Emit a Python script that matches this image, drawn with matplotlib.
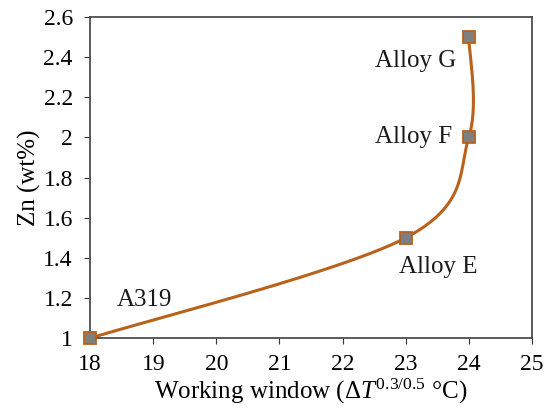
import numpy as np
import matplotlib
matplotlib.use("Agg")
import matplotlib.pyplot as plt

plt.rcParams['font.family'] = ['Liberation Serif', 'DejaVu Serif']
plt.rcParams['mathtext.fontset'] = 'custom'
plt.rcParams['mathtext.rm'] = 'Liberation Serif'
plt.rcParams['mathtext.it'] = 'Liberation Serif:italic'

# working window vs Zn content
window = [18, 23, 24, 24]
zn = [1.0, 1.5, 2.0, 2.5]
names = ["A319", "Alloy E", "Alloy F", "Alloy G"]
label_pos = [(18.86, 1.19), (23.51, 1.355), (23.13, 2.0), (23.15, 2.38)]
xticks = [18, 19, 20, 21, 22, 23, 24, 25]
yticks = [1, 1.2, 1.4, 1.6, 1.8, 2, 2.2, 2.4, 2.6]


def smooth(xs, ys, n=60):
    # smoothed line: cubic bezier segments through the points
    p = np.column_stack([xs, ys]).astype(float)
    out = []
    for i in range(len(p) - 1):
        p0 = p[i - 1] if i > 0 else p[i]
        p1, p2 = p[i], p[i + 1]
        p3 = p[i + 2] if i + 2 < len(p) else p[i + 1]
        c1 = p1 + (p2 - p0) / 6.0
        c2 = p2 - (p3 - p1) / 6.0
        t = np.linspace(0, 1, n)[:, None]
        seg = ((1 - t) ** 3) * p1 + 3 * ((1 - t) ** 2) * t * c1 + 3 * (1 - t) * t ** 2 * c2 + t ** 3 * p2
        out.append(seg)
    s = np.vstack(out)
    return s[:, 0], s[:, 1]


fig = plt.figure(figsize=(5.5, 4.15), dpi=100)
ax = fig.add_axes([0.164, 0.185, 0.803, 0.774])

sx, sy = smooth(window, zn)
ax.plot(sx, sy, color='#B8621B', lw=2.2, zorder=2)
ax.plot(window, zn, ls='none', marker='s', ms=8, mfc='#7F7F7F', mec='#B8621B',
        mew=1.3, zorder=3, clip_on=False)

ax.set_xlim(18, 25)
ax.set_ylim(1, 2.6)
ax.set_xticks(xticks)
ax.set_yticks(yticks)
ax.set_yticklabels([('%g' % v) for v in yticks])
ax.tick_params(direction='out', length=4.5, labelsize=17, color='#333333')
ax.tick_params(axis='x', pad=7)
ax.tick_params(axis='y', pad=8)
for s in ax.spines.values():
    s.set_color('#404040')
    s.set_linewidth(1.2)

for nm, (tx, ty) in zip(names, label_pos):
    ax.text(tx, ty, nm, fontsize=18, ha='center', va='center', color='#1a1a1a')

ax.set_xlabel(r'Working window ($\Delta\mathit{T}^{\mathit{0.3/0.5}}$ °C)', fontsize=18, labelpad=1)
ax.set_ylabel('Zn (wt%)', fontsize=18, labelpad=2)

fig.savefig('out.png', dpi=100)
